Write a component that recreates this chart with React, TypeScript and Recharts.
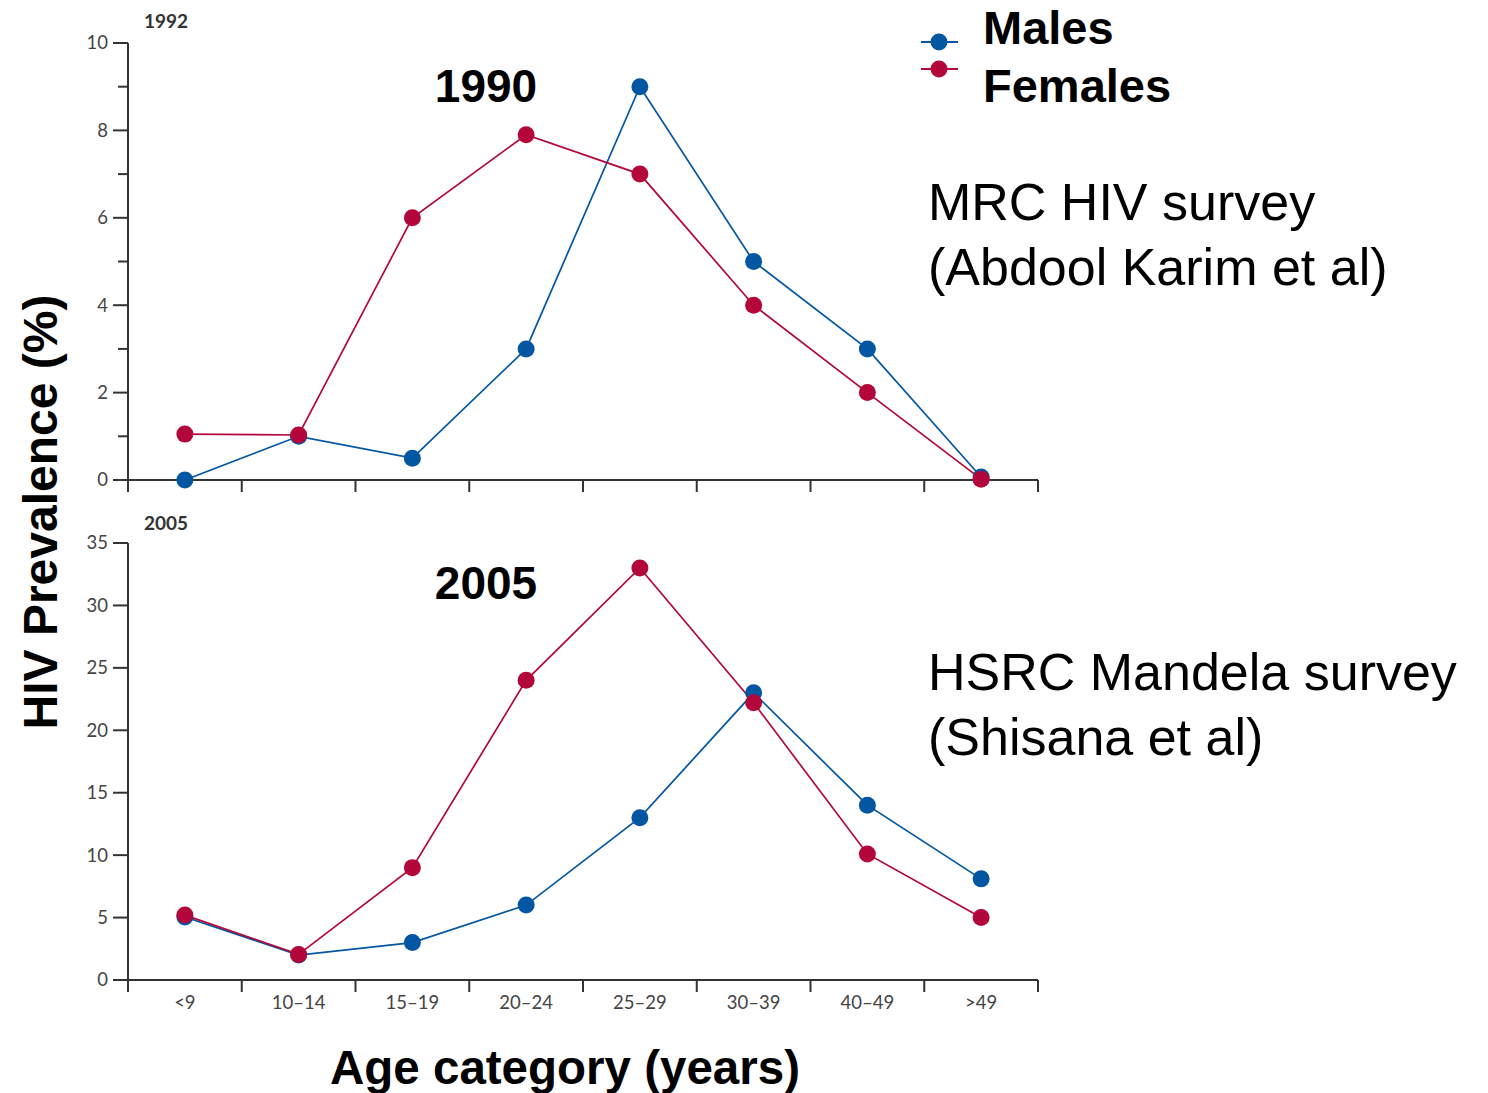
import React from "react";
import { LineChart, Line, XAxis, YAxis } from "recharts";

// Age groups, shared by both panels
const categories = ["<9", "10–14", "15–19", "20–24", "25–29", "30–39", "40–49", ">49"];

// 1990 (MRC HIV survey), prevalence in %
const males1990 = [0, 1, 0.5, 3, 9, 5, 3, 0.07];
const females1990 = [1.05, 1.03, 6, 7.9, 7, 4, 2, 0.02];

// 2005 (HSRC Mandela survey), prevalence in %
const males2005 = [5.05, 2, 3, 6, 13, 23, 14, 8.1];
const females2005 = [5.2, 2.05, 9, 24, 33, 22.2, 10.1, 5];

const yTicks1990 = [0, 1, 2, 3, 4, 5, 6, 7, 8, 9, 10];
const yLabels1990 = [0, 2, 4, 6, 8, 10];
const yTicks2005 = [0, 5, 10, 15, 20, 25, 30, 35];
const xBoundaries = [0, 1, 2, 3, 4, 5, 6, 7, 8];

const BLUE = "#0356a2";
const RED = "#b3073b";
const AXIS = "#333333";
const TICK_FONT = "Lato, 'Open Sans', sans-serif";
const TITLE_FONT = "'Liberation Sans', Arial, Helvetica, sans-serif";

const CHART_W = 1100;
const CHART_H = 520;
const MARGIN = { top: 43, right: 62, left: 68, bottom: 0 };
const Y_AXIS_W = 60;
const PLOT_W = CHART_W - MARGIN.left - MARGIN.right - Y_AXIS_W;
const HALF_BAND = PLOT_W / categories.length / 2;

const buildRows = (males: number[], females: number[]) =>
  categories.map((age, i) => ({ age, x: i + 0.5, males: males[i], females: females[i] }));

const makeYTick = (labels: number[]) => (props: any) => {
  const { x, y, payload } = props;
  const major = labels.includes(payload.value);
  const len = major ? 15 : 10;
  return (
    <g>
      <line x1={x - len} x2={x} y1={y} y2={y} stroke={AXIS} strokeWidth={2} />
      {major && (
        <text
          x={x - 20}
          y={y}
          dy="0.35em"
          textAnchor="end"
          fontFamily={TICK_FONT}
          fontSize={18.5}
          fill="#444"
        >
          {payload.value}
        </text>
      )}
    </g>
  );
};

const makeXTick = (showLabels: boolean) => (props: any) => {
  const { x, y, payload } = props;
  const label = categories[payload.value];
  if (!showLabels || !label) return <g />;
  return (
    <text
      x={x + HALF_BAND}
      y={y + 17}
      textAnchor="middle"
      fontFamily={TICK_FONT}
      fontSize={18.5}
      fill="#444"
    >
      {label}
    </text>
  );
};

interface PanelProps {
  rows: Array<{ age: string; x: number; males: number; females: number }>;
  yMax: number;
  yTicks: number[];
  yLabels: number[];
  showXLabels: boolean;
  top: number;
}

const Panel: React.FC<PanelProps> = ({ rows, yMax, yTicks, yLabels, showXLabels, top }) => (
  <div style={{ position: "absolute", left: 0, top }}>
    <LineChart width={CHART_W} height={CHART_H} data={rows} margin={MARGIN}>
      <XAxis
        type="number"
        dataKey="x"
        domain={[0, categories.length]}
        ticks={xBoundaries}
        interval={0}
        height={40}
        tickSize={12}
        tickMargin={0}
        axisLine={{ stroke: AXIS, strokeWidth: 2 }}
        tickLine={{ stroke: AXIS, strokeWidth: 2 }}
        tick={makeXTick(showXLabels)}
      />
      <YAxis
        type="number"
        domain={[0, yMax]}
        ticks={yTicks}
        interval={0}
        width={Y_AXIS_W}
        tickSize={0}
        tickMargin={0}
        tickLine={false}
        axisLine={{ stroke: AXIS, strokeWidth: 2 }}
        tick={makeYTick(yLabels)}
      />
      <Line
        type="linear"
        dataKey="males"
        stroke={BLUE}
        strokeWidth={1.7}
        dot={{ r: 8.5, fill: BLUE, stroke: "none" }}
        activeDot={false}
        isAnimationActive={false}
      />
      <Line
        type="linear"
        dataKey="females"
        stroke={RED}
        strokeWidth={1.7}
        dot={{ r: 8.5, fill: RED, stroke: "none" }}
        activeDot={false}
        isAnimationActive={false}
      />
    </LineChart>
  </div>
);

export default function App() {
  const rows1990 = buildRows(males1990, females1990);
  const rows2005 = buildRows(males2005, females2005);

  return (
    <div style={{ position: "absolute", left: 0, top: 0, width: 1488, height: 1093, background: "#fff" }}>
      <Panel rows={rows1990} yMax={10} yTicks={yTicks1990} yLabels={yLabels1990} showXLabels={false} top={0} />
      <Panel rows={rows2005} yMax={35} yTicks={yTicks2005} yLabels={yTicks2005} showXLabels={true} top={500} />

      <svg
        width={1488}
        height={1093}
        style={{ position: "absolute", left: 0, top: 0, pointerEvents: "none" }}
      >
        {/* small panel headers */}
        <text x={144} y={28} fontFamily={TICK_FONT} fontWeight={700} fontSize={19} fill="#333">1992</text>
        <text x={144} y={530} fontFamily={TICK_FONT} fontWeight={700} fontSize={19} fill="#333">2005</text>

        {/* big years */}
        <text x={486} y={102} textAnchor="middle" fontFamily={TITLE_FONT} fontWeight={700} fontSize={46} fill="#000">1990</text>
        <text x={486} y={599} textAnchor="middle" fontFamily={TITLE_FONT} fontWeight={700} fontSize={46} fill="#000">2005</text>

        {/* legend */}
        <line x1={921} x2={958} y1={42} y2={42} stroke={BLUE} strokeWidth={2} />
        <circle cx={939} cy={42} r={8.5} fill={BLUE} />
        <line x1={921} x2={958} y1={69} y2={69} stroke={RED} strokeWidth={2} />
        <circle cx={939} cy={69} r={8.5} fill={RED} />
        <text x={983} y={44} fontFamily={TITLE_FONT} fontWeight={700} fontSize={47} fill="#000">Males</text>
        <text x={983} y={102} fontFamily={TITLE_FONT} fontWeight={700} fontSize={47} fill="#000">Females</text>

        {/* survey annotations */}
        <text x={928} y={220} fontFamily={TITLE_FONT} fontSize={52} fill="#000">MRC HIV survey</text>
        <text x={928} y={285} fontFamily={TITLE_FONT} fontSize={52} fill="#000">(Abdool Karim et al)</text>
        <text x={928} y={690} fontFamily={TITLE_FONT} fontSize={52} fill="#000">HSRC Mandela survey</text>
        <text x={928} y={755} fontFamily={TITLE_FONT} fontSize={52} fill="#000">(Shisana et al)</text>

        {/* axis titles */}
        <text
          transform="translate(57 512) rotate(-90)"
          textAnchor="middle"
          fontFamily={TITLE_FONT}
          fontWeight={700}
          fontSize={48}
          fill="#000"
        >
          HIV Prevalence (%)
        </text>
        <text x={565} y={1084} textAnchor="middle" fontFamily={TITLE_FONT} fontWeight={700} fontSize={47.5} fill="#000">
          Age category (years)
        </text>
      </svg>
    </div>
  );
}
